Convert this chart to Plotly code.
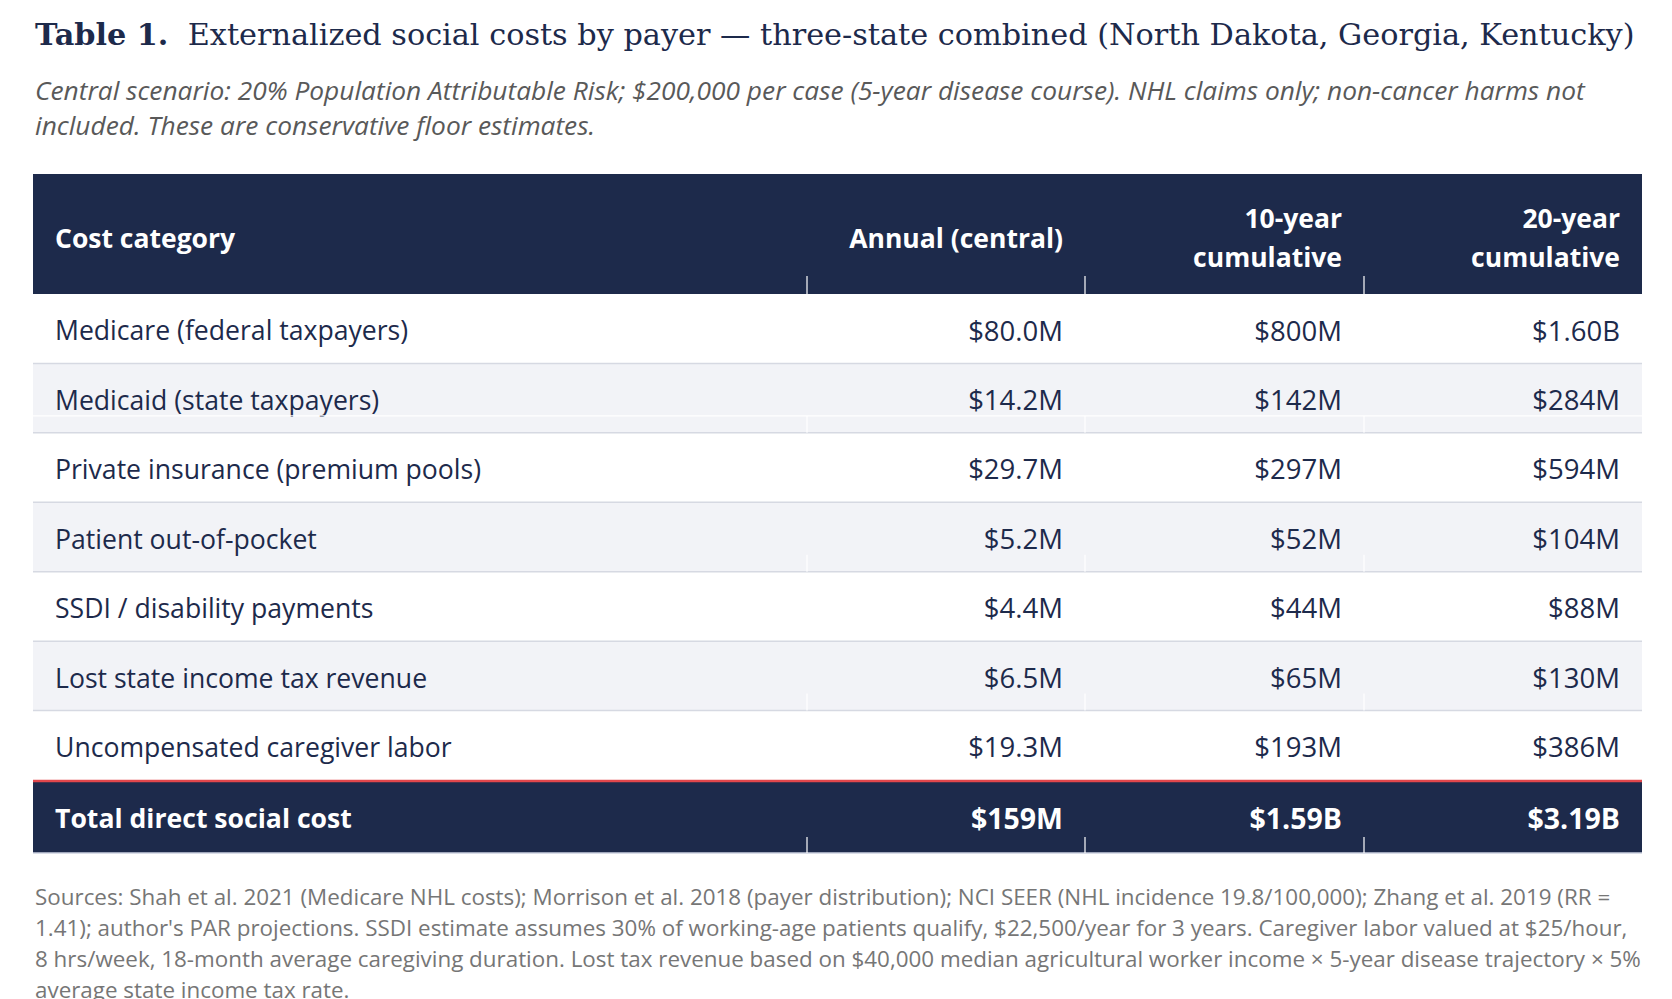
import plotly.graph_objects as go

# ---- table contents ----
title_bold = "Table 1."
title_rest = "Externalized social costs by payer — three-state combined (North Dakota, Georgia, Kentucky)"
subtitle_lines = [
    "Central scenario: 20% Population Attributable Risk; $200,000 per case (5-year disease course). NHL claims only; non-cancer harms not",
    "included. These are conservative floor estimates.",
]
header = ["Cost category", "Annual (central)", "10-year<br>cumulative", "20-year<br>cumulative"]
categories = [
    "Medicare (federal taxpayers)",
    "Medicaid (state taxpayers)",
    "Private insurance (premium pools)",
    "Patient out-of-pocket",
    "SSDI / disability payments",
    "Lost state income tax revenue",
    "Uncompensated caregiver labor",
]
annual = ["$80.0M", "$14.2M", "$29.7M", "$5.2M", "$4.4M", "$6.5M", "$19.3M"]
cum10 = ["$800M", "$142M", "$297M", "$52M", "$44M", "$65M", "$193M"]
cum20 = ["$1.60B", "$284M", "$594M", "$104M", "$88M", "$130M", "$386M"]
total_label = "Total direct social cost"
total = ["$159M", "$1.59B", "$3.19B"]
footer_lines = [
    "Sources: Shah et al. 2021 (Medicare NHL costs); Morrison et al. 2018 (payer distribution); NCI SEER (NHL incidence 19.8/100,000); Zhang et al. 2019 (RR =",
    "1.41); author's PAR projections. SSDI estimate assumes 30% of working-age patients qualify, $22,500/year for 3 years. Caregiver labor valued at $25/hour,",
    "8 hrs/week, 18-month average caregiving duration. Lost tax revenue based on $40,000 median agricultural worker income × 5-year disease trajectory × 5%",
    "average state income tax rate.",
]

# ---- look ----
NAVY = "#1d2a4b"
STRIPE = "#f2f3f7"
RULE = "#d6d9e2"
RED = "#e2474c"
SANS = "Open Sans"
W, H = 1672, 999
OFF = 8  # page body margin; the axes are shifted so units equal page pixels

col_edges = [33, 807, 1085, 1364, 1642]
pad = 22
head_top, head_bot = 174, 294
body_bot = 780
total_bot = 853
row_h = (body_bot - head_bot) / len(categories)
text_drop = 5  # Open Sans sits a little high when middle-anchored
row_mid = [head_bot + row_h * (i + 0.5) + text_drop for i in range(len(categories))]
total_mid = (body_bot + total_bot) / 2 + 5
head_mid = 241
head_line = 39

fig = go.Figure()
shapes = []

def rect(x0, y0, x1, y1, color):
    shapes.append(dict(type="rect", xref="x", yref="y", x0=x0, y0=y0, x1=x1, y1=y1,
                       fillcolor=color, line_width=0, layer="below"))

def line(x0, y0, x1, y1, color, width):
    shapes.append(dict(type="line", xref="x", yref="y", x0=x0, y0=y0, x1=x1, y1=y1,
                       line=dict(color=color, width=width)))

L, R = col_edges[0], col_edges[-1]
rect(L, head_top, R, head_bot, NAVY)
for i in range(len(categories)):
    y0 = head_bot + i * row_h
    if i % 2 == 1:
        rect(L, y0, R, y0 + row_h, STRIPE)
rect(L, body_bot, R, total_bot, NAVY)

# row rules
for i in range(1, len(categories)):
    y = head_bot + i * row_h
    line(L, y, R, y, RULE, 1.5)
line(L, total_bot, R, total_bot, "#cdd2e0", 1.5)
line(L, body_bot + 1, R, body_bot + 1, RED, 2.5)

# faint white column marks (as in the rendered source)
ticks = [(head_bot - 18, head_bot), (total_bot - 16, total_bot)]
for i in range(1, len(categories), 2):
    yb = head_bot + (i + 1) * row_h
    ticks.append((yb - 17, yb))
for x in col_edges[1:-1]:
    for y0, y1 in ticks:
        line(x, y0, x, y1, "white", 1.2)
line(L, head_bot + 2 * row_h - 17, R, head_bot + 2 * row_h - 17, "white", 1.2)

# header text
for c, lab in enumerate(header):
    parts = lab.split("<br>")
    n = len(parts)
    ys = [head_mid + (k - (n - 1) / 2) * head_line for k in range(n)]
    if c == 0:
        xs, pos = [L + pad] * n, "middle right"
    else:
        xs, pos = [col_edges[c + 1] - pad] * n, "middle left"
    fig.add_trace(go.Scatter(x=xs, y=ys, text=parts, mode="text", textposition=pos,
                             textfont=dict(family=SANS, size=26.5, color="white", weight=700),
                             cliponaxis=False, hoverinfo="skip", showlegend=False))

# body text
fig.add_trace(go.Scatter(x=[L + pad] * len(categories), y=row_mid, text=categories, mode="text",
                         textposition="middle right",
                         textfont=dict(family=SANS, size=26.6, color=NAVY),
                         cliponaxis=False, hoverinfo="skip", showlegend=False))
for c, vals in enumerate([annual, cum10, cum20]):
    fig.add_trace(go.Scatter(x=[col_edges[c + 2] - pad] * len(vals), y=row_mid, text=vals, mode="text",
                             textposition="middle left",
                             textfont=dict(family=SANS, size=27.5, color=NAVY),
                             cliponaxis=False, hoverinfo="skip", showlegend=False))

# total row
fig.add_trace(go.Scatter(x=[L + pad], y=[total_mid], text=[total_label], mode="text",
                         textposition="middle right",
                         textfont=dict(family=SANS, size=26.6, color="white", weight=700),
                         cliponaxis=False, hoverinfo="skip", showlegend=False))
fig.add_trace(go.Scatter(x=[col_edges[c + 2] - pad for c in range(3)], y=[total_mid] * 3, text=total,
                         mode="text", textposition="middle left",
                         textfont=dict(family=SANS, size=28.5, color="white", weight=700),
                         cliponaxis=False, hoverinfo="skip", showlegend=False))

annotations = [
    dict(x=L, y=34, xref="x", yref="y", xanchor="left", yanchor="middle", showarrow=False,
         text="<b>" + title_bold + "</b>\u00a0\u00a0" + title_rest,
         font=dict(family="DejaVu Serif", size=30.3, color=NAVY)),
]
for k, t in enumerate(subtitle_lines):
    annotations.append(dict(x=L, y=90 + k * 35, xref="x", yref="y", xanchor="left", yanchor="middle",
                            showarrow=False, text=t,
                            font=dict(family=SANS, size=26.3, color="#595959", style="italic")))
for k, t in enumerate(footer_lines):
    annotations.append(dict(x=L, y=896 + k * 31, xref="x", yref="y", xanchor="left", yanchor="middle",
                            showarrow=False, text=t,
                            font=dict(family=SANS, size=22.4, color="#767676")))

fig.update_layout(
    width=W - OFF, height=H - OFF, margin=dict(l=0, r=0, t=0, b=0),
    paper_bgcolor="white", plot_bgcolor="white",
    xaxis=dict(range=[OFF, W], visible=False, fixedrange=True),
    yaxis=dict(range=[H, OFF], visible=False, fixedrange=True),
    shapes=shapes, annotations=annotations,
)
fig.write_html("out.html")
